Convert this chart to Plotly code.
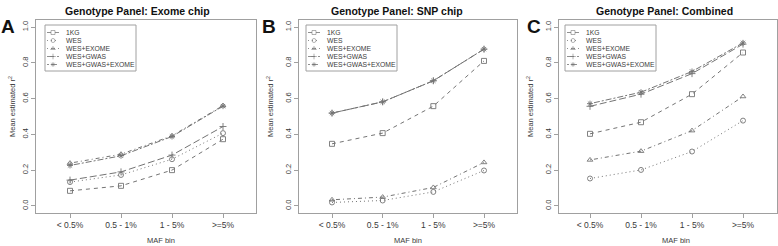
import plotly.graph_objects as go

W, H = 778, 246

categories = ["< 0.5%", "0.5 - 1%", "1 - 5%", ">=5%"]
series_names = ["1KG", "WES", "WES+EXOME", "WES+GWAS", "WES+GWAS+EXOME"]
panel_titles = ["Genotype Panel: Exome chip", "Genotype Panel: SNP chip", "Genotype Panel: Combined"]
panel_letters = ["A", "B", "C"]
y_ticks = [0.0, 0.2, 0.4, 0.6, 0.8, 1.0]

# Panel A: Exome chip
exome_1kg = [0.084, 0.112, 0.200, 0.373]
exome_wes = [0.133, 0.173, 0.261, 0.407]
exome_wes_exome = [0.239, 0.289, 0.392, 0.561]
exome_wes_gwas = [0.144, 0.190, 0.284, 0.444]
exome_wes_gwas_exome = [0.226, 0.280, 0.388, 0.558]

# Panel B: SNP chip
snp_1kg = [0.347, 0.407, 0.558, 0.811]
snp_wes = [0.019, 0.030, 0.078, 0.198]
snp_wes_exome = [0.034, 0.049, 0.103, 0.243]
snp_wes_gwas = [0.519, 0.582, 0.700, 0.877]
snp_wes_gwas_exome = [0.519, 0.582, 0.700, 0.877]

# Panel C: Combined
comb_1kg = [0.403, 0.468, 0.625, 0.858]
comb_wes = [0.153, 0.201, 0.304, 0.477]
comb_wes_exome = [0.257, 0.306, 0.421, 0.612]
comb_wes_gwas = [0.557, 0.625, 0.740, 0.905]
comb_wes_gwas_exome = [0.572, 0.636, 0.752, 0.912]

panels = [
    [exome_1kg, exome_wes, exome_wes_exome, exome_wes_gwas, exome_wes_gwas_exome],
    [snp_1kg, snp_wes, snp_wes_exome, snp_wes_gwas, snp_wes_gwas_exome],
    [comb_1kg, comb_wes, comb_wes_exome, comb_wes_gwas, comb_wes_gwas_exome],
]

# styles (R-like lty 2..6 and pch 0,1,2,3,8)
dashes = ["4px,4px", "1px,3px", "1px,3px,4px,3px", "7px,3px", "2px,2px,6px,2px"]
symbols = ["square-open", "circle-open", "triangle-up-open", "cross-thin-open", "asterisk-open"]
LINE_COL = "#747474"
AXIS_COL = "#a0a0a0"
TXT_COL = "#3a3a3a"
FONT = "Liberation Sans, Arial, sans-serif"

# layout geometry in pixels
box_px = [(36, 256), (299, 517), (559, 777)]
tick1_px = [70, 332, 590]
tick4_px = [223, 484, 743]
box_top, box_bot = 20, 213
legend_left = [45, 306, 565]
legend_top, legend_bot = 25, 71
legend_w = 91
title_cx = [137.5, 397, 664]
xlab_cx = [161, 407.5, 676]
ylab_cx = [12, 270, 530]
letter_cx = [7.5, 268.5, 534]


def px(x):
    return x / W


def py(y):
    return 1 - y / H


fig = go.Figure()
layout = dict(
    width=W, height=H, margin=dict(l=0, r=0, t=0, b=0),
    paper_bgcolor="white", plot_bgcolor="rgba(0,0,0,0)",
    showlegend=False, font=dict(family=FONT, color=TXT_COL),
    annotations=[], shapes=[],
)

xcat = [1, 2, 3, 4]
for p in range(3):
    ax = "" if p == 0 else str(p + 1)
    l, r = box_px[p]
    sp = (tick4_px[p] - tick1_px[p]) / 3
    xr = [1 - (tick1_px[p] - l) / sp, 4 + (r - tick4_px[p]) / sp]
    for s in range(5):
        fig.add_trace(go.Scatter(
            x=xcat, y=panels[p][s], mode="lines+markers", name=series_names[s],
            xaxis="x" + ax, yaxis="y" + ax,
            line=dict(color=LINE_COL, width=1, dash=dashes[s]),
            marker=dict(symbol=symbols[s], size=5, color=LINE_COL, line=dict(width=0.9, color=LINE_COL)),
            cliponaxis=False,
        ))
    common = dict(showline=True, mirror=True, linecolor=AXIS_COL, linewidth=1,
                  ticks="outside", ticklen=4, tickcolor=AXIS_COL, tickwidth=1,
                  showgrid=False, zeroline=False)
    layout["xaxis" + ax] = dict(
        domain=[px(l), px(r)], range=xr, anchor="y" + ax,
        tickvals=xcat, ticktext=categories, tickfont=dict(size=8.5, color=TXT_COL, family=FONT),
        **common)
    layout["yaxis" + ax] = dict(
        domain=[py(box_bot), py(box_top)], range=[-0.04, 1.04], anchor="x" + ax,
        tickvals=y_ticks, ticktext=["%.1f" % v for v in y_ticks], tickangle=-90,
        tickfont=dict(size=7.5, color=TXT_COL, family=FONT), **common)

    ann = layout["annotations"]
    ann.append(dict(text="<b>%s</b>" % panel_titles[p], x=px(title_cx[p]), y=py(11),
                    xref="paper", yref="paper", showarrow=False, xanchor="center", yanchor="middle",
                    font=dict(size=10.5, color="#111111", family=FONT)))
    ann.append(dict(text="<b>%s</b>" % panel_letters[p], x=px(letter_cx[p]), y=py(26),
                    xref="paper", yref="paper", showarrow=False, xanchor="center", yanchor="middle",
                    font=dict(size=19, color="#111111", family=FONT)))
    ann.append(dict(text="MAF bin", x=px(xlab_cx[p]), y=py(240),
                    xref="paper", yref="paper", showarrow=False, xanchor="center", yanchor="middle",
                    font=dict(size=7.5, color=TXT_COL, family=FONT)))
    ann.append(dict(text="Mean estimated r<sup>2</sup>", x=px(ylab_cx[p]), y=py(107), textangle=-90,
                    xref="paper", yref="paper", showarrow=False, xanchor="center", yanchor="middle",
                    font=dict(size=7.5, color=TXT_COL, family=FONT)))

    # legend box
    L = legend_left[p]
    layout["shapes"].append(dict(type="rect", xref="paper", yref="paper",
                                 x0=px(L), x1=px(L + legend_w), y0=py(legend_bot), y1=py(legend_top),
                                 line=dict(color=AXIS_COL, width=1), fillcolor="white", layer="below"))
    row_h = (legend_bot - legend_top - 6) / 5
    for s in range(5):
        ry = legend_top + 3 + row_h * (s + 0.5) + 0.5
        fig.add_trace(go.Scatter(
            x=[L + 2, L + 8, L + 14], y=[ry, ry, ry], mode="lines+markers",
            xaxis="x4", yaxis="y4", hoverinfo="skip",
            line=dict(color=LINE_COL, width=0.8, dash=dashes[s]),
            marker=dict(symbol=symbols[s], size=[0, 4, 0], color=LINE_COL,
                        line=dict(width=0.8, color=LINE_COL)),
        ))
        ann.append(dict(text=series_names[s], x=px(L + 19), y=py(ry),
                        xref="paper", yref="paper", showarrow=False, xanchor="left", yanchor="middle",
                        font=dict(size=6.8, color=TXT_COL, family=FONT)))

layout["xaxis4"] = dict(domain=[0, 1], range=[0, W], visible=False, anchor="y4")
layout["yaxis4"] = dict(domain=[0, 1], range=[H, 0], visible=False, anchor="x4")

fig.update_layout(**layout)
fig.write_html("out.html", config={"displayModeBar": False},
               post_script="document.body.style.margin='0';document.body.style.overflow='hidden';")
